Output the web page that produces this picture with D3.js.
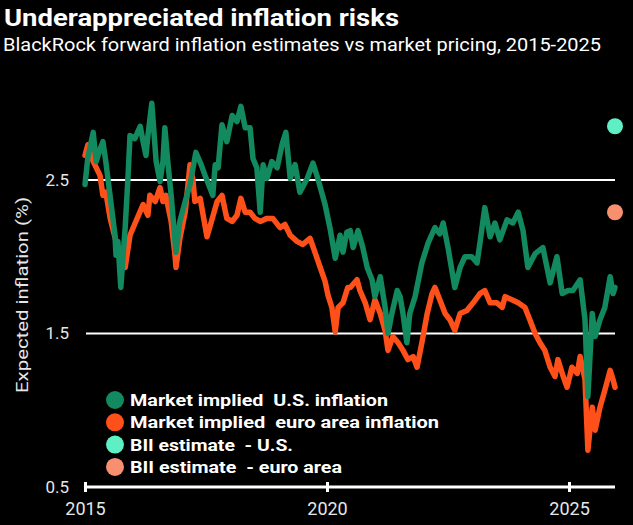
<!DOCTYPE html>
<html>
<head>
<meta charset="utf-8">
<script src="https://cdn.jsdelivr.net/npm/d3@7"></script>
<style>
  html, body { margin: 0; padding: 0; background: #000; }
  svg { display: block; }
  text { font-family: Roboto, "Open Sans", sans-serif; }
</style>
</head>
<body>
<svg id="chart" width="633" height="525"></svg>
<script>
// ---- data (decimal year, expected inflation %) ----
const usYears = [2015.00,2015.06,2015.17,2015.23,2015.31,2015.37,2015.43,2015.54,2015.62,2015.64,2015.68,2015.74,2015.83,2015.89,2015.93,2016.03,2016.14,2016.20,2016.26,2016.30,2016.38,2016.47,2016.55,2016.61,2016.65,2016.71,2016.78,2016.86,2016.88,2016.96,2017.07,2017.17,2017.29,2017.40,2017.48,2017.58,2017.64,2017.69,2017.75,2017.83,2017.93,2018.04,2018.14,2018.22,2018.31,2018.41,2018.47,2018.55,2018.62,2018.68,2018.76,2018.86,2018.97,2019.07,2019.15,2019.24,2019.34,2019.44,2019.59,2019.71,2019.81,2019.96,2020.06,2020.17,2020.27,2020.33,2020.41,2020.48,2020.54,2020.64,2020.74,2020.83,2020.93,2020.99,2021.10,2021.20,2021.26,2021.34,2021.45,2021.51,2021.57,2021.65,2021.71,2021.82,2021.96,2022.09,2022.23,2022.33,2022.40,2022.50,2022.64,2022.75,2022.85,2022.99,2023.10,2023.16,2023.26,2023.37,2023.47,2023.57,2023.72,2023.84,2023.95,2024.05,2024.15,2024.30,2024.46,2024.61,2024.75,2024.86,2024.98,2025.08,2025.23,2025.33,2025.39,2025.48,2025.54,2025.64,2025.74,2025.85,2025.91,2025.95];
const usValues = [2.47,2.65,2.81,2.62,2.70,2.75,2.62,2.34,2.14,2.01,2.10,1.80,2.19,2.53,2.79,2.77,2.85,2.75,2.66,2.79,3.00,2.62,2.49,2.62,2.84,2.62,2.40,2.10,2.03,2.23,2.36,2.47,2.68,2.60,2.53,2.45,2.40,2.60,2.58,2.86,2.75,2.92,2.88,2.98,2.84,2.84,2.64,2.58,2.29,2.60,2.51,2.62,2.58,2.73,2.81,2.51,2.60,2.42,2.51,2.61,2.51,2.34,2.19,1.99,2.14,2.03,2.16,2.17,2.06,2.17,2.06,1.93,1.85,1.74,1.87,1.67,1.50,1.63,1.78,1.74,1.63,1.44,1.63,1.74,1.96,2.09,2.19,2.15,2.22,2.06,1.80,1.93,2.00,2.00,1.96,2.09,2.32,2.13,2.22,2.11,2.24,2.22,2.29,2.17,1.93,2.02,2.06,1.83,2.00,1.76,1.78,1.78,1.85,1.59,1.09,1.63,1.48,1.59,1.67,1.87,1.76,1.80];

const euYears = [2015.00,2015.06,2015.17,2015.31,2015.37,2015.43,2015.52,2015.68,2015.76,2015.83,2015.93,2016.05,2016.20,2016.30,2016.34,2016.45,2016.55,2016.61,2016.67,2016.78,2016.86,2016.88,2016.96,2017.07,2017.17,2017.23,2017.27,2017.38,2017.52,2017.64,2017.73,2017.83,2017.93,2018.04,2018.14,2018.22,2018.31,2018.41,2018.51,2018.62,2018.76,2018.88,2019.03,2019.13,2019.24,2019.38,2019.50,2019.65,2019.75,2019.86,2019.96,2020.02,2020.10,2020.17,2020.23,2020.33,2020.43,2020.48,2020.62,2020.68,2020.79,2020.89,2020.99,2021.10,2021.20,2021.26,2021.36,2021.47,2021.57,2021.67,2021.78,2021.86,2021.96,2022.07,2022.17,2022.23,2022.33,2022.44,2022.54,2022.64,2022.75,2022.89,2023.02,2023.16,2023.26,2023.37,2023.51,2023.62,2023.68,2023.82,2023.95,2024.09,2024.19,2024.30,2024.40,2024.50,2024.61,2024.71,2024.77,2024.88,2024.96,2025.06,2025.17,2025.23,2025.33,2025.39,2025.48,2025.54,2025.64,2025.74,2025.85,2025.91,2025.95];
const euValues = [2.66,2.73,2.62,2.53,2.40,2.42,2.25,2.05,1.98,1.93,2.14,2.23,2.34,2.27,2.40,2.36,2.45,2.36,2.40,2.23,2.01,1.93,2.12,2.29,2.60,2.50,2.36,2.38,2.13,2.26,2.36,2.40,2.25,2.23,2.27,2.38,2.29,2.29,2.25,2.23,2.25,2.25,2.19,2.21,2.14,2.10,2.08,2.12,2.03,1.93,1.84,1.75,1.67,1.51,1.67,1.70,1.80,1.80,1.85,1.78,1.70,1.59,1.72,1.63,1.52,1.39,1.48,1.44,1.39,1.33,1.35,1.28,1.44,1.63,1.76,1.80,1.72,1.63,1.59,1.52,1.63,1.65,1.70,1.76,1.78,1.70,1.70,1.67,1.74,1.72,1.70,1.67,1.59,1.50,1.44,1.39,1.28,1.22,1.33,1.22,1.15,1.28,1.24,1.35,1.20,0.74,1.02,0.87,1.02,1.13,1.26,1.20,1.15];

const biiYear = 2025.95;
const biiUS = 2.85;
const biiEU = 2.29;

const yTicks = [0.5, 1.5, 2.5];
const xTicks = [2015, 2020, 2025];

const legendLabels = ["Market implied  U.S. inflation", "Market implied  euro area inflation", "BII estimate  - U.S.", "BII estimate  - euro area"];
const legendColors = ["#12895e", "#ff5019", "#5ef0c4", "#f8906f"];

const title = "Underappreciated inflation risks";
const subtitle = "BlackRock forward inflation estimates vs market pricing, 2015-2025";
const yTitle = "Expected inflation (%)";

// ---- chart ----
const svg = d3.select("#chart");
svg.append("rect").attr("width", 633).attr("height", 525).attr("fill", "#000");

const x = d3.scaleLinear().domain([2015, 2025.95]).range([85, 615]);
const y = d3.scaleLinear().domain([0.5, 3.0]).range([487, 103.25]);

// title
svg.append("text").attr("x", 4).attr("y", 26)
  .attr("fill", "#fff").attr("font-size", 24).attr("font-weight", 700)
  .attr("textLength", 395).attr("lengthAdjust", "spacingAndGlyphs")
  .text(title);
svg.append("text").attr("x", 3).attr("y", 51)
  .attr("fill", "#fff").attr("font-size", 18)
  .attr("textLength", 598).attr("lengthAdjust", "spacingAndGlyphs")
  .text(subtitle);

// gridlines
svg.append("g").selectAll("line").data(yTicks.filter(d => d > 0.5)).join("line")
  .attr("x1", 86).attr("x2", 615)
  .attr("y1", d => y(d)).attr("y2", d => y(d))
  .attr("stroke", "#fff").attr("stroke-width", 2);

// y tick labels
svg.append("g").selectAll("text").data(yTicks).join("text")
  .attr("x", 69).attr("y", d => y(d)).attr("dy", "0.35em")
  .attr("text-anchor", "end").attr("fill", "#e6e6e6").attr("font-size", 17)
  .text(d => d.toFixed(1));

// y title
svg.append("text")
  .attr("transform", `translate(28,${295}) rotate(-90)`)
  .attr("text-anchor", "middle").attr("fill", "#e6e6e6").attr("font-size", 17)
  .attr("textLength", 196).attr("lengthAdjust", "spacingAndGlyphs")
  .text(yTitle);

// x axis
const xAxis = d3.axisBottom(x).tickValues(xTicks).tickFormat(d3.format("d")).tickSize(5).tickPadding(10);
const gx = svg.append("g").attr("transform", `translate(0,${y(0.5)})`).call(xAxis);
gx.select(".domain").attr("stroke", "#fff").attr("stroke-width", 3).attr("d", `M${x(2015)},0H${x(2025.95)}`);
gx.selectAll(".tick line").attr("stroke", "#fff").attr("stroke-width", 3).attr("y1", -5).attr("y2", 5);
gx.selectAll(".tick text").attr("fill", "#e6e6e6").attr("font-size", 18)
  .style("font-family", "Roboto, 'Open Sans', sans-serif");

// lines
const line = d3.line().x(d => x(d[0])).y(d => y(d[1])).curve(d3.curveLinear);
const euData = d3.zip(euYears, euValues);
const usData = d3.zip(usYears, usValues);

svg.append("path").datum(euData).attr("d", line)
  .attr("fill", "none").attr("stroke", legendColors[1]).attr("stroke-width", 5.5)
  .attr("stroke-linejoin", "round").attr("stroke-linecap", "round");
svg.append("path").datum(usData).attr("d", line)
  .attr("fill", "none").attr("stroke", legendColors[0]).attr("stroke-width", 5.5)
  .attr("stroke-linejoin", "round").attr("stroke-linecap", "round");

// BII dots
svg.append("circle").attr("cx", x(biiYear)).attr("cy", y(biiUS)).attr("r", 8).attr("fill", legendColors[2]);
svg.append("circle").attr("cx", x(biiYear)).attr("cy", y(biiEU)).attr("r", 8).attr("fill", legendColors[3]);

// legend
const legendWidths = [258, 309, 163, 212];
const lg = svg.append("g");
const rows = lg.selectAll("g").data(legendLabels).join("g")
  .attr("transform", (d, i) => `translate(115,${400 + i * 22.3})`);
rows.append("circle").attr("r", 9).attr("fill", (d, i) => legendColors[i]);
rows.append("text").attr("x", 15).attr("dy", "0.35em")
  .attr("fill", "#fff").attr("font-size", 17).attr("font-weight", 700)
  .attr("textLength", (d, i) => legendWidths[i]).attr("lengthAdjust", "spacingAndGlyphs")
  .style("white-space", "pre")
  .text(d => d);
</script>
</body>
</html>
